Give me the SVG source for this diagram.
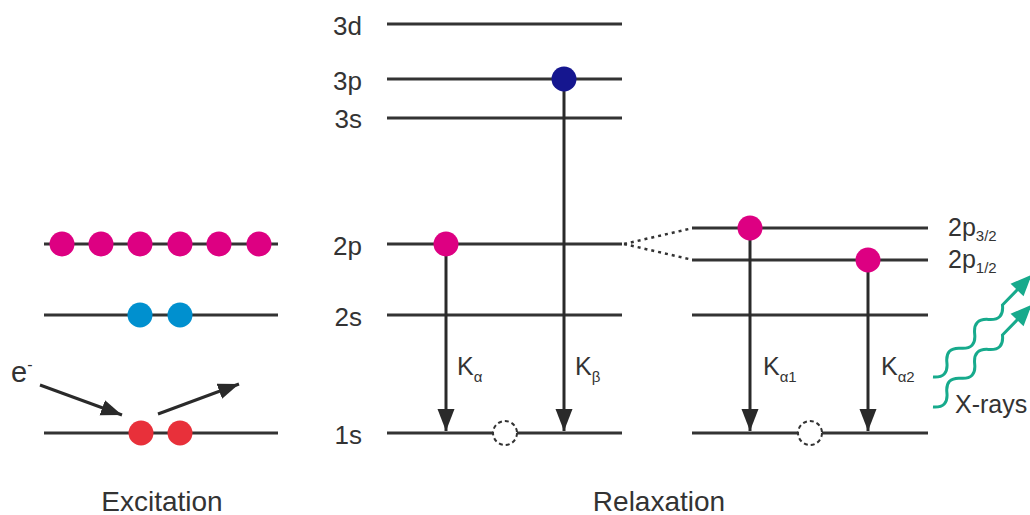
<svg xmlns="http://www.w3.org/2000/svg" width="1030" height="515" viewBox="0 0 1030 515">
<defs>
<style>
.lvl{stroke:#333;stroke-width:3;fill:none}
.arr{stroke:#2a2a2a;stroke-width:3;fill:none}
.mag{fill:#DD0082}
.blu{fill:#0090CF}
.red{fill:#E8303A}
.nav{fill:#15168F}
.hole{fill:#fff;stroke:#333;stroke-width:2;stroke-dasharray:4 3}
.dots{stroke:#333;stroke-width:2.5;stroke-dasharray:3 4;fill:none}
.t{font-family:"Liberation Sans",Arial,sans-serif;fill:#333}
.wave{stroke:#17AA8C;stroke-width:3;fill:none}
</style>
<marker id="ah" markerUnits="userSpaceOnUse" markerWidth="24" markerHeight="18" refX="22" refY="8.5" orient="auto">
<path d="M0,0 L22,8.5 L0,17 z" fill="#2a2a2a"/>
</marker>
<marker id="ah2" markerUnits="userSpaceOnUse" markerWidth="22" markerHeight="18" refX="21" refY="8" orient="auto">
<path d="M0,0 L21,8 L0,16 z" fill="#2a2a2a"/>
</marker>
</defs>
<rect width="1030" height="515" fill="#fff"/>

<g id="levels">
<line class="lvl" x1="44" y1="244" x2="278" y2="244"/>
<line class="lvl" x1="44" y1="315" x2="278" y2="315"/>
<line class="lvl" x1="44" y1="433" x2="278" y2="433"/>
<line class="lvl" x1="387" y1="24" x2="622" y2="24"/>
<line class="lvl" x1="387" y1="79" x2="622" y2="79"/>
<line class="lvl" x1="387" y1="118" x2="622" y2="118"/>
<line class="lvl" x1="387" y1="244" x2="622" y2="244"/>
<line class="lvl" x1="387" y1="315" x2="622" y2="315"/>
<line class="lvl" x1="387" y1="433" x2="622" y2="433"/>
<line class="lvl" x1="692" y1="228" x2="928" y2="228"/>
<line class="lvl" x1="692" y1="260" x2="928" y2="260"/>
<line class="lvl" x1="692" y1="315" x2="928" y2="315"/>
<line class="lvl" x1="692" y1="433" x2="928" y2="433"/>
</g>

<g id="connectors">
<line class="dots" x1="624" y1="244" x2="691" y2="228.5"/>
<line class="dots" x1="624" y1="244" x2="691" y2="259.5"/>
<line class="arr" x1="446" y1="244" x2="446" y2="431" marker-end="url(#ah)"/>
<line class="arr" x1="564" y1="79" x2="564" y2="431" marker-end="url(#ah)"/>
<line class="arr" x1="750" y1="228" x2="750" y2="431" marker-end="url(#ah)"/>
<line class="arr" x1="868" y1="260" x2="868" y2="431" marker-end="url(#ah)"/>
<line class="arr" x1="40" y1="385" x2="122" y2="415" marker-end="url(#ah2)"/>
<line class="arr" x1="158" y1="414" x2="239" y2="384" marker-end="url(#ah2)"/>
<g transform="translate(933,377) rotate(-46)">
<path class="wave" d="M0,0 q10,12 20,0 t20,0 t20,0 t20,0 t20,0 L123,0"/>
<path d="M121,-9 L142,0 L121,9 z" fill="#17AA8C"/>
</g>
<g transform="translate(933,407) rotate(-46)">
<path class="wave" d="M0,0 q10,12 20,0 t20,0 t20,0 t20,0 t20,0 L123,0"/>
<path d="M121,-9 L142,0 L121,9 z" fill="#17AA8C"/>
</g>
</g>

<g id="excitation-electrons">
<circle class="mag" cx="62" cy="244" r="12.5"/>
<circle class="mag" cx="101" cy="244" r="12.5"/>
<circle class="mag" cx="140" cy="244" r="12.5"/>
<circle class="mag" cx="180" cy="244" r="12.5"/>
<circle class="mag" cx="219" cy="244" r="12.5"/>
<circle class="mag" cx="259" cy="244" r="12.5"/>
<circle class="blu" cx="140" cy="315" r="12.5"/>
<circle class="blu" cx="180" cy="315" r="12.5"/>
<circle class="red" cx="141" cy="433" r="12.5"/>
<circle class="red" cx="180" cy="433" r="12.5"/>
</g>

<g id="relaxation-electrons">
<circle class="nav" cx="564" cy="79" r="12.5"/>
<circle class="mag" cx="446" cy="244" r="12.5"/>
<circle class="hole" cx="505" cy="433" r="12"/>
<circle class="mag" cx="750" cy="228" r="12.5"/>
<circle class="mag" cx="868" cy="260" r="12.5"/>
<circle class="hole" cx="810" cy="433" r="12"/>
</g>

<g id="labels">
<text class="t" x="362" y="35" font-size="26" text-anchor="end">3d</text>
<text class="t" x="362" y="90" font-size="26" text-anchor="end">3p</text>
<text class="t" x="362" y="128" font-size="26" text-anchor="end">3s</text>
<text class="t" x="362" y="255" font-size="26" text-anchor="end">2p</text>
<text class="t" x="362" y="326" font-size="26" text-anchor="end">2s</text>
<text class="t" x="362" y="444" font-size="26" text-anchor="end">1s</text>
<text class="t" x="457" y="375" font-size="25">K<tspan font-size="15" dy="7">α</tspan></text>
<text class="t" x="575" y="375" font-size="25">K<tspan font-size="15" dy="7">β</tspan></text>
<text class="t" x="763" y="375" font-size="25">K<tspan font-size="15" dy="7">α1</tspan></text>
<text class="t" x="881" y="375" font-size="25">K<tspan font-size="15" dy="7">α2</tspan></text>
<text class="t" x="948" y="236" font-size="25">2p<tspan font-size="15" dy="5">3/2</tspan></text>
<text class="t" x="948" y="268" font-size="25">2p<tspan font-size="15" dy="5">1/2</tspan></text>
<text class="t" x="955" y="413" font-size="25">X-rays</text>
<text class="t" x="11" y="382" font-size="29">e<tspan font-size="16" dy="-12">-</tspan></text>
<text class="t" x="162" y="511" font-size="28" text-anchor="middle">Excitation</text>
<text class="t" x="659" y="511" font-size="28" text-anchor="middle">Relaxation</text>
</g>
</svg>
